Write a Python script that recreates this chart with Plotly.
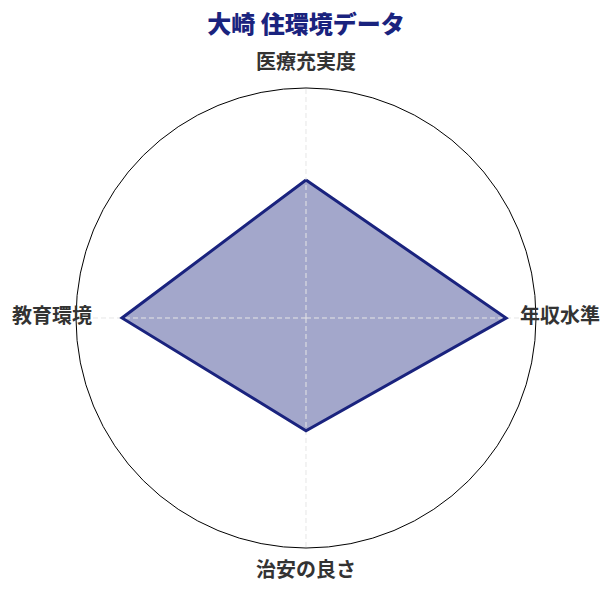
import plotly.graph_objects as go

# 住環境スコア (0-100)
categories = ['医療充実度', '年収水準', '治安の良さ', '教育環境']
scores = [60, 87, 49, 80]
r_max = 100

navy = '#1a237e'
closed_theta = categories + categories[:1]
closed_r = scores + scores[:1]

# spokes: centre -> outer edge for each category, separated by None
spoke_r, spoke_theta = [], []
for c in categories:
    spoke_r += [0, r_max, None]
    spoke_theta += [c, c, None]

fig = go.Figure()

# filled area
fig.add_trace(go.Scatterpolar(
    r=closed_r, theta=closed_theta,
    fill='toself', fillcolor='rgba(26,35,126,0.4)',
    line=dict(width=0), mode='lines', hoverinfo='skip',
))
# dashed spokes drawn over the fill
fig.add_trace(go.Scatterpolar(
    r=spoke_r, theta=spoke_theta, mode='lines',
    line=dict(color='#e6e6e6', width=1, dash='5px,3px'),
    hoverinfo='skip', connectgaps=False,
))
# outline
fig.add_trace(go.Scatterpolar(
    r=closed_r, theta=closed_theta,
    line=dict(color=navy, width=3), mode='lines', hoverinfo='skip',
))
# category labels on a larger, invisible polar centred on the same point
fig.add_trace(go.Scatterpolar(
    r=[1] * len(categories), theta=categories, subplot='polar2',
    mode='text', text=categories, textposition='middle center',
    textfont=dict(size=20, color='#333333', family='Noto Sans CJK JP', weight=700),
    cliponaxis=False, hoverinfo='skip',
))

inner = [0.0472, 0.9528]
fig.update_layout(
    width=612, height=595,
    margin=dict(l=44, r=60, t=56, b=31),
    paper_bgcolor='white',
    showlegend=False,
    font=dict(family='Noto Sans CJK JP', color='#333333'),
    title=dict(text='大崎 住環境データ', x=0.4869, xanchor='center',
               y=0.972, yanchor='middle',
               font=dict(size=24, color=navy, weight=900)),
    polar=dict(
        domain=dict(x=inner, y=inner),
        bgcolor='white',
        radialaxis=dict(range=[0, r_max], visible=False, showgrid=False),
        angularaxis=dict(
            rotation=90, direction='clockwise',
            showline=True, linecolor='black', linewidth=1,
            showgrid=False, showticklabels=False, ticks='',
        ),
    ),
    polar2=dict(
        domain=dict(x=[0, 1], y=[0, 1]),
        bgcolor='rgba(0,0,0,0)',
        radialaxis=dict(range=[0, 1], visible=False, showgrid=False),
        angularaxis=dict(
            rotation=90, direction='clockwise',
            showline=False, showgrid=False, showticklabels=False, ticks='',
        ),
    ),
)

fig.write_html('out.html')
